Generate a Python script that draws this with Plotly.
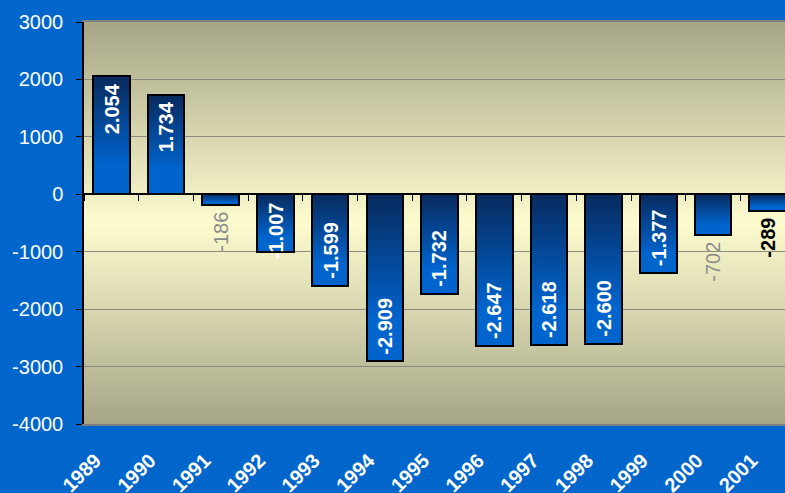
import plotly.graph_objects as go

years = ["1989", "1990", "1991", "1992", "1993", "1994", "1995",
         "1996", "1997", "1998", "1999", "2000", "2001"]
values = [2054, 1734, -186, -1007, -1599, -2909, -1732,
          -2647, -2618, -2600, -1377, -702, -289]
y_ticks = [3000, 2000, 1000, 0, -1000, -2000, -3000, -4000]

# label styling (separate from data)
label_mode = ["end", "end", "out", "base", "end", "end", "end",
              "end", "end", "end", "end", "out", "out"]
label_color = ["white"] * 11 + ["#8c8c8c", "black"]
label_color[2] = "#8c8c8c"
label_bold = [True, True, False, True, True, True, True,
              True, True, True, True, False, True]

FONT = "Liberation Sans, Arial, sans-serif"
BG = "#0066CC"

xs = list(range(len(years)))

fig = go.Figure()

# background gradient of plot area (bands)
nb = 80
light = (253, 252, 206)
dark = (166, 165, 135)
shapes = []
for k in range(nb):
    y0 = k / nb
    y1 = (k + 1) / nb
    t = abs((y0 + y1) / 2 - 0.5) / 0.5
    c = tuple(int(round(light[j] + (dark[j] - light[j]) * t)) for j in range(3))
    shapes.append(dict(type="rect", xref="paper", yref="paper",
                       x0=0, x1=1, y0=y0, y1=y1 + 0.002, layer="below",
                       line=dict(width=0), fillcolor="rgb(%d,%d,%d)" % c))

# bar gradient: draw nested bars from full to small
n = 30
bdark = (8, 42, 94)
bbright = (0, 100, 205)


def bar_col(t):
    f = min(1.0, t / 0.75)
    return "rgb(%d,%d,%d)" % tuple(int(round(bdark[j] + (bbright[j] - bdark[j]) * f)) for j in range(3))


BW = 0.67
for i in range(n):
    frac = (n - i) / n
    ys = [v * frac for v in values]
    cols = []
    for v in values:
        mid = frac - 0.5 / n
        t = (1 - mid) if v > 0 else mid
        cols.append(bar_col(t))
    fig.add_trace(go.Bar(x=xs, y=ys, width=BW, marker=dict(color=cols, line=dict(width=0)),
                         hoverinfo="skip", showlegend=False))

# outline bars on overlay axis
fig.add_trace(go.Bar(x=xs, y=values, width=BW, xaxis="x2",
                     marker=dict(color="rgba(0,0,0,0)", line=dict(color="black", width=2)),
                     hoverinfo="skip", showlegend=False))

annotations = []
for x, v, m, c, b in zip(xs, values, label_mode, label_color, label_bold):
    txt = f"{v:,}".replace(",", ".")
    if b:
        txt = "<b>" + txt + "</b>"
    if m == "end":
        if v > 0:
            ya, ysh, yv = "top", -5, v
        else:
            ya, ysh, yv = "bottom", 5, v
    elif m == "base":
        ya, ysh, yv = "top", -6, 0
    else:
        ya, ysh, yv = "top", -5, v
    annotations.append(dict(x=x, y=yv, xref="x", yref="y", text=txt, showarrow=False,
                            textangle=-90, yanchor=ya, xanchor="center", yshift=ysh,
                            font=dict(family=FONT, size=20, color=c)))

XR = [-0.5, 12.315]
fig.update_layout(
    width=785, height=493,
    margin=dict(l=84, r=0, t=22, b=69, autoexpand=False),
    paper_bgcolor=BG, plot_bgcolor="#fdfcce",
    barmode="overlay", bargap=0,
    shapes=shapes, annotations=annotations,
    showlegend=False,
    xaxis=dict(range=XR, tickmode="array", tickvals=xs, ticktext=years,
               tickangle=-45, ticks="", showgrid=False, zeroline=False,
               showline=True, linecolor="#7f7f7f", linewidth=2, mirror=True,
               ticklabelstandoff=15, ticklabelshift=-16, automargin=False,
               tickfont=dict(family=FONT, size=20, color="white", weight="bold")),
    xaxis2=dict(range=XR, overlaying="x", anchor="free", position=4 / 7,
                tickmode="array", tickvals=[k + 0.5 for k in range(-1, len(years))],
                ticks="outside", ticklen=6, tickcolor="black", tickwidth=1,
                showticklabels=False, showgrid=False, zeroline=False, showline=False),
    yaxis=dict(range=[-4000, 3000], tickmode="array",
               tickvals=y_ticks, ticktext=[str(v) for v in y_ticks],
               ticks="outside", ticklen=6, tickcolor="black", tickwidth=1,
               showline=True, linecolor="black", linewidth=1.5,
               showgrid=True, gridcolor="#8a8a80", gridwidth=1,
               zeroline=True, zerolinecolor="black", zerolinewidth=1.5,
               ticklabelstandoff=9, automargin=False,
               tickfont=dict(family=FONT, size=20, color="white")),
)

fig.write_html("out.html", config={"displayModeBar": False})
